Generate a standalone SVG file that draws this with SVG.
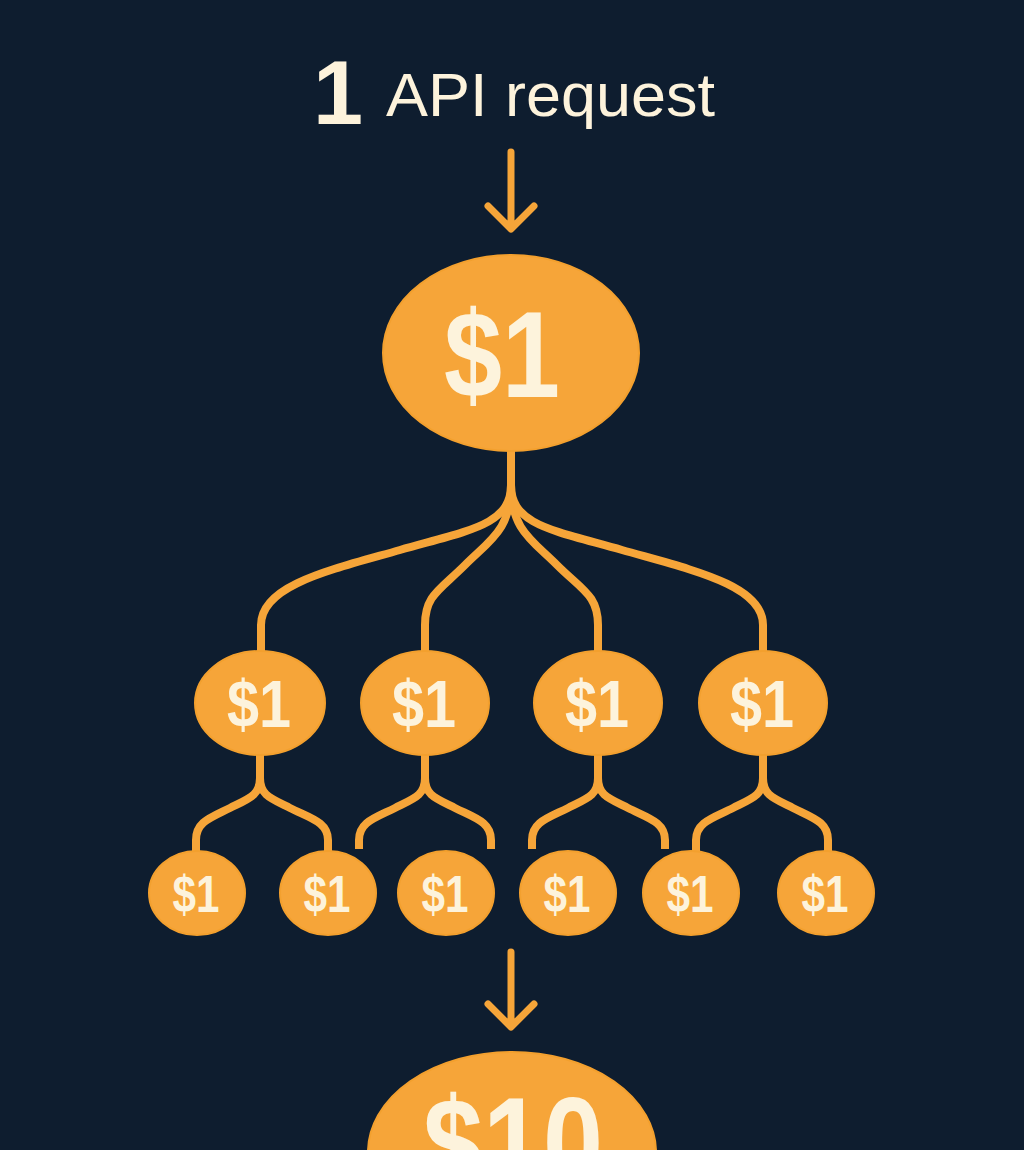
<svg xmlns="http://www.w3.org/2000/svg" width="1024" height="1150" viewBox="0 0 1024 1150">
<style>
.coin{fill:#f6a539;stroke:#f3a02e;stroke-width:2}
.lbl{fill:#fdf3dc;font-family:"Liberation Sans",Roboto,sans-serif;font-weight:bold;text-anchor:middle}
.ttl{fill:#fdf3dc;font-family:"Liberation Sans",Inter,sans-serif}
.ln{fill:none;stroke:#f6a539;stroke-width:8;stroke-linecap:butt;stroke-linejoin:round}
.ar{fill:none;stroke:#f6a539;stroke-width:7;stroke-linecap:round;stroke-linejoin:round}
</style>
<rect width="1024" height="1150" fill="#0e1d2f"/>
<g id="title">
<text class="ttl" x="338" y="124" font-size="90" font-weight="bold" text-anchor="middle">1</text>
<text class="ttl" x="386" y="116" font-size="61" textLength="329" lengthAdjust="spacingAndGlyphs">API request</text>
</g>
<g id="connectors">
<path class="ar" d="M511 152 V228 M488 206 L511 229 L534 206"/>
<path class="ln" d="M511 450 V490"/>
<path class="ln" d="M511 485 C511 525 470 530 400 550 S261 585 261 625 V652"/>
<path class="ln" d="M511 485 C511 530 490 540 465 565 S425 595 425 625 V652"/>
<path class="ln" d="M511 485 C511 530 532 540 557 565 S598 595 598 625 V652"/>
<path class="ln" d="M511 485 C511 525 552 530 622 550 S763 585 763 625 V652"/>
<g stroke-width="7">
<path class="ln" d="M260 754 V778 C260 795 250 798 230 808 S196 822 196 840 V852"/>
<path class="ln" d="M260 778 C260 795 270 798 290 808 S328 822 328 840 V852"/>
<path class="ln" d="M425 754 V778 C425 795 415 798 395 808 S359 822 359 840 V849"/>
<path class="ln" d="M425 778 C425 795 435 798 455 808 S491 822 491 840 V849"/>
<path class="ln" d="M598 754 V778 C598 795 588 798 568 808 S532 822 532 840 V849"/>
<path class="ln" d="M598 778 C598 795 608 798 628 808 S665 822 665 840 V849"/>
<path class="ln" d="M763 754 V778 C763 795 753 798 733 808 S696 822 696 840 V852"/>
<path class="ln" d="M763 778 C763 795 773 798 793 808 S828 822 828 840 V852"/>
</g>
<path class="ar" d="M511 952 V1026 M488 1004 L511 1027 L534 1004"/>
</g>
<g id="root">
<ellipse class="coin" cx="511" cy="353" rx="128" ry="98"/>
<text class="lbl" x="502" y="397" font-size="122" textLength="116" lengthAdjust="spacingAndGlyphs">$1</text>
</g>
<g id="n2a"><ellipse class="coin" cx="260" cy="703" rx="65" ry="52"/><text class="lbl" x="259" y="727" font-size="66" textLength="64" lengthAdjust="spacingAndGlyphs">$1</text></g>
<g id="n2b"><ellipse class="coin" cx="425" cy="703" rx="64" ry="52"/><text class="lbl" x="424" y="727" font-size="66" textLength="64" lengthAdjust="spacingAndGlyphs">$1</text></g>
<g id="n2c"><ellipse class="coin" cx="598" cy="703" rx="64" ry="52"/><text class="lbl" x="597" y="727" font-size="66" textLength="64" lengthAdjust="spacingAndGlyphs">$1</text></g>
<g id="n2d"><ellipse class="coin" cx="763" cy="703" rx="64" ry="52"/><text class="lbl" x="762" y="727" font-size="66" textLength="64" lengthAdjust="spacingAndGlyphs">$1</text></g>
<g id="n3a"><ellipse class="coin" cx="197" cy="893" rx="48" ry="42"/><text class="lbl" x="196" y="912" font-size="52" textLength="47" lengthAdjust="spacingAndGlyphs">$1</text></g>
<g id="n3b"><ellipse class="coin" cx="328" cy="893" rx="48" ry="42"/><text class="lbl" x="327" y="912" font-size="52" textLength="47" lengthAdjust="spacingAndGlyphs">$1</text></g>
<g id="n3c"><ellipse class="coin" cx="446" cy="893" rx="48" ry="42"/><text class="lbl" x="445" y="912" font-size="52" textLength="47" lengthAdjust="spacingAndGlyphs">$1</text></g>
<g id="n3d"><ellipse class="coin" cx="568" cy="893" rx="48" ry="42"/><text class="lbl" x="567" y="912" font-size="52" textLength="47" lengthAdjust="spacingAndGlyphs">$1</text></g>
<g id="n3e"><ellipse class="coin" cx="691" cy="893" rx="48" ry="42"/><text class="lbl" x="690" y="912" font-size="52" textLength="47" lengthAdjust="spacingAndGlyphs">$1</text></g>
<g id="n3f"><ellipse class="coin" cx="826" cy="893" rx="48" ry="42"/><text class="lbl" x="825" y="912" font-size="52" textLength="47" lengthAdjust="spacingAndGlyphs">$1</text></g>
<g id="total">
<ellipse class="coin" cx="512" cy="1152" rx="144" ry="100"/>
<text class="lbl" x="513" y="1188" font-size="130" textLength="180" lengthAdjust="spacingAndGlyphs">$10</text>
</g>
</svg>
